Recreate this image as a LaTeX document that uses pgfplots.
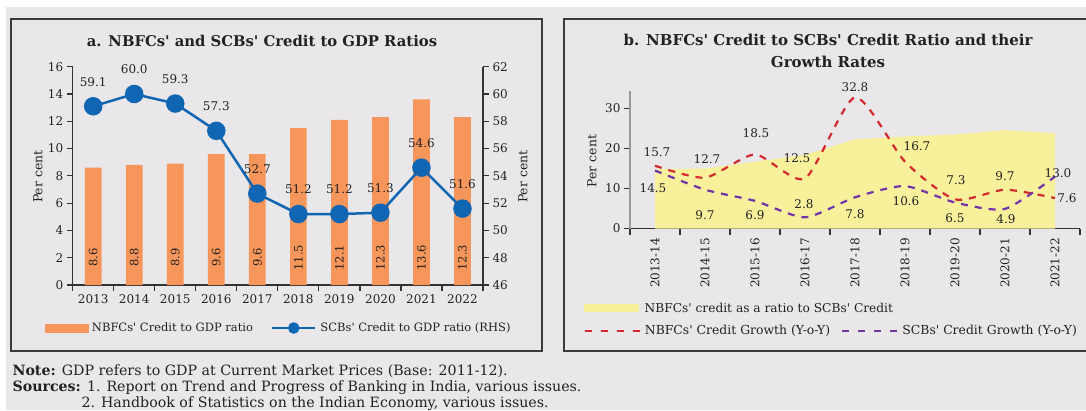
\documentclass[border=0pt]{standalone}
\usepackage{fontspec}
\setmainfont{DejaVu Serif}
\usepackage{pgfplots}
\usepackage{pgfplotstable}
\pgfplotsset{compat=1.18,/pgf/number format/assume math mode=true}
\definecolor{bg}{HTML}{E9E7EA}
\definecolor{barc}{HTML}{F7965A}
\definecolor{linec}{HTML}{1166B3}
\definecolor{yel}{HTML}{F8F09A}
\definecolor{redc}{HTML}{D42A2E}
\definecolor{purc}{HTML}{7234A8}
\definecolor{framec}{HTML}{3A3A3A}
\definecolor{axc}{HTML}{333333}
\definecolor{txt}{HTML}{222222}

\pgfplotstableread{
x lab
2013 8.6
2014 8.8
2015 8.9
2016 9.6
2017 9.6
2018 11.5
2019 12.1
2020 12.3
2021 13.6
2022 12.3
}\bartab

\pgfplotstableread{
x y
2013 59.1
2014 60.0
2015 59.3
2016 57.3
2017 52.7
2018 51.2
2019 51.2
2020 51.3
2021 54.6
2022 51.6
}\scbtab

\pgfplotstableread{
x y
0 14.8
1 15.0
2 16.7
3 18.4
4 22.3
5 23.0
6 23.5
7 24.6
8 23.8
}\ratiotab

\pgfplotstableread{
x y dx dy
0 15.7 2 14
1 12.7 2 19
2 18.5 1 21
3 12.5 -8 20
4 32.8 0 10
5 16.7 12 15.5
6 7.3 1 19
7 9.7 0 13.5
8 7.6 12 0
}\redtab

\pgfplotstableread{
x y dx dy
0 14.5 -2 -18
1 9.7 0 -25
2 6.9 0 -14.5
3 2.8 -1 13.5
4 7.8 0 -16.5
5 10.6 1 -15
6 6.5 0 -15.5
7 4.9 1 -10
8 13.0 3 3.5
}\purtab

\newcommand{\fs}[1]{\fontsize{#1}{#1}\selectfont}
\newcommand{\q}{\textquotesingle}

\begin{document}
\begin{tikzpicture}[x=1pt,y=1pt]
\fill[bg] (6,0) rectangle (1086,403);
\draw[framec, line width=1.2pt] (11,59) rectangle (542,391);
\draw[framec, line width=1.2pt] (1100,59) -- (564,59) -- (564,391) -- (1100,391);

\node[font=\bfseries\fs{14.8}, text=txt] at (262,369) {a. NBFCs\q{} and SCBs\q{} Credit to GDP Ratios};
\node[font=\bfseries\fs{15}, text=txt] at (828,370) {b. NBFCs\q{} Credit to SCBs\q{} Credit Ratio and their};
\node[font=\bfseries\fs{15}, text=txt] at (828,348) {Growth Rates};

% ---------- panel a, left axis (bars)
\begin{axis}[
  at={(72.7pt,125pt)}, anchor=south west, scale only axis,
  width=410.3pt, height=218.3pt,
  xmin=2012.5, xmax=2022.5, ymin=0, ymax=16,
  axis x line*=bottom, axis y line*=left,
  axis line style={draw=axc, line width=1.2pt},
  xtick={2013,...,2022},
  xticklabels={2013,2014,2015,2016,2017,2018,2019,2020,2021,2022},
  minor xtick={2012.5,2013.5,...,2022.5},
  major x tick style={draw=none},
  minor x tick style={draw=axc, line width=1.2pt},
  ytick={0,2,...,16},
  y tick style={draw=axc, line width=1.2pt},
  tick align=outside, major tick length=6pt, minor tick length=6pt,
  tick label style={font=\fs{12}, text=txt},
  ylabel={Per cent},
  ylabel style={font=\fs{12.4}, text=txt, at={(axis description cs:-0.085,0.496)}, anchor=center},
  clip=false,
]
\addplot[ybar, bar width=16.7pt, fill=barc, draw=none] table[x=x, y=lab] {\bartab};
\addplot[only marks, mark=none, nodes near coords, point meta=explicit symbolic,
  every node near coord/.append style={anchor=center, rotate=90, font=\fs{11.5}, text=txt}]
  table[x=x, y expr=2, meta=lab] {\bartab};
\end{axis}

% ---------- panel a, right axis (line)
\begin{axis}[
  at={(72.7pt,125pt)}, anchor=south west, scale only axis,
  width=410.3pt, height=218.3pt,
  xmin=2012.5, xmax=2022.5, ymin=46, ymax=62,
  axis x line=none, axis y line*=right,
  axis line style={draw=axc, line width=1.2pt},
  ytick={46,48,...,62},
  y tick style={draw=axc, line width=1.2pt},
  tick align=outside, major tick length=6pt,
  tick label style={font=\fs{12}, text=txt},
  ylabel={Per cent},
  ylabel style={font=\fs{12.4}, text=txt, at={(axis description cs:1.0975,0.496)}, anchor=center, rotate=0},
  clip=false,
  legend columns=2,
  legend style={at={(axis description cs:-0.069,-0.197)}, anchor=west, draw=none, fill=none,
    font=\fs{11.5}, text=txt, inner sep=0pt,
    /tikz/every even column/.append style={column sep=16pt}},
]
\addlegendimage{legend image code/.code={\fill[barc] (0pt,-4pt) rectangle (43pt,4pt); \path (45pt,0pt);}}
\addlegendentry{NBFCs\q{} Credit to GDP ratio}
\addplot[linec, line width=2.5pt, mark=*, mark size=8pt, mark options={fill=linec, draw=linec},
  nodes near coords={\pgfmathprintnumber[fixed,fixed zerofill,precision=1]{\pgfplotspointmeta}},
  point meta=y,
  every node near coord/.append style={anchor=center, yshift=24.5pt, font=\fs{12}, text=txt},
  legend image code/.code={\draw[linec, line width=2.5pt] (0pt,0pt) -- (43pt,0pt); \fill[linec] (21.5pt,0pt) circle (4.5pt); \path (45pt,0pt);}]
  table[x=x, y=y] {\scbtab};
\addlegendentry{SCBs\q{} Credit to GDP ratio (RHS)}
\end{axis}

% ---------- panel b, area + axes
\begin{axis}[
  at={(630pt,181.5pt)}, anchor=south west, scale only axis,
  width=450pt, height=138pt,
  xmin=-0.5, xmax=8.5, ymin=0, ymax=34.5,
  axis x line*=bottom, axis y line*=left,
  x axis line style={draw=axc, line width=1.2pt},
  y axis line style={draw=black!40, line width=2.5pt},
  xtick={0,...,8},
  xticklabels={2013-14,2014-15,2015-16,2016-17,2017-18,2018-19,2019-20,2020-21,2021-22},
  minor xtick={-0.5,0.5,...,8.5},
  major x tick style={draw=none},
  minor x tick style={draw=axc, line width=1.2pt},
  ytick={0,10,20,30},
  y tick style={draw=axc, line width=1.2pt},
  tick align=outside, major tick length=6pt, minor tick length=6pt,
  tick label style={font=\fs{12}, text=txt},
  xticklabel style={rotate=90, anchor=east},
  ylabel={Per cent},
  ylabel style={font=\fs{12.4}, text=txt, at={(axis description cs:-0.0844,0.489)}, anchor=center},
  clip=false,
  legend style={at={(axis description cs:-0.1033,-0.578)}, anchor=west, draw=none, fill=none,
    font=\fs{12.2}, text=txt, inner sep=0pt},
]
\addplot[fill=yel, draw=none, legend image code/.code={\fill[yel] (0pt,-4pt) rectangle (55pt,4pt); \path (59pt,0pt);}]
  table[x=x, y=y] {\ratiotab} \closedcycle;
\addlegendentry{NBFCs\q{} credit as a ratio to SCBs\q{} Credit}
\end{axis}

% ---------- panel b, lines
\begin{axis}[
  at={(630pt,181.5pt)}, anchor=south west, scale only axis,
  width=450pt, height=138pt,
  xmin=-0.5, xmax=8.5, ymin=0, ymax=34.5,
  hide axis, clip=false,
  legend columns=2,
  legend style={at={(axis description cs:-0.1033,-0.7406)}, anchor=west, draw=none, fill=none,
    font=\fs{12.4}, text=txt, inner sep=0pt,
    /tikz/every even column/.append style={column sep=9pt}},
]
\addplot[redc, line width=2.2pt, dash pattern=on 7pt off 7pt, smooth, tension=0.4,
  nodes near coords={\pgfmathprintnumber[fixed,fixed zerofill,precision=1]{\pgfplotspointmeta}},
  point meta=y,
  visualization depends on={\thisrow{dx}\as\dx},
  visualization depends on={\thisrow{dy}\as\dy},
  every node near coord/.append style={anchor=center, xshift=\dx pt, yshift=\dy pt, font=\fs{12}, text=txt},
  legend image code/.code={\draw[redc, line width=2.2pt, dash pattern=on 7pt off 9pt] (0pt,0pt) -- (57pt,0pt);}]
  table[x=x, y=y] {\redtab};
\addlegendentry{NBFCs\q{} Credit Growth (Y-o-Y)}
\addplot[purc, line width=2.2pt, dash pattern=on 7pt off 7pt, smooth, tension=0.4,
  nodes near coords={\pgfmathprintnumber[fixed,fixed zerofill,precision=1]{\pgfplotspointmeta}},
  point meta=y,
  visualization depends on={\thisrow{dx}\as\dx},
  visualization depends on={\thisrow{dy}\as\dy},
  every node near coord/.append style={anchor=center, xshift=\dx pt, yshift=\dy pt, font=\fs{12}, text=txt},
  legend image code/.code={\draw[purc, line width=2.2pt, dash pattern=on 7pt off 9pt] (0pt,0pt) -- (57pt,0pt);}]
  table[x=x, y=y] {\purtab};
\addlegendentry{SCBs\q{} Credit Growth (Y-o-Y)}
\end{axis}

\node[anchor=west, font=\fs{14.2}, text=txt] at (9,38.5) {\textbf{Note:} GDP refers to GDP at Current Market Prices (Base: 2011-12).};
\node[anchor=west, font=\fs{14.2}, text=txt] at (9,22) {\textbf{Sources:} 1. Report on Trend and Progress of Banking in India, various issues.};
\node[anchor=west, font=\fs{14.2}, text=txt] at (78,6) {2. Handbook of Statistics on the Indian Economy, various issues.};

\pgfresetboundingbox
\path[use as bounding box] (0,0) rectangle (1086,410);
\end{tikzpicture}
\end{document}
